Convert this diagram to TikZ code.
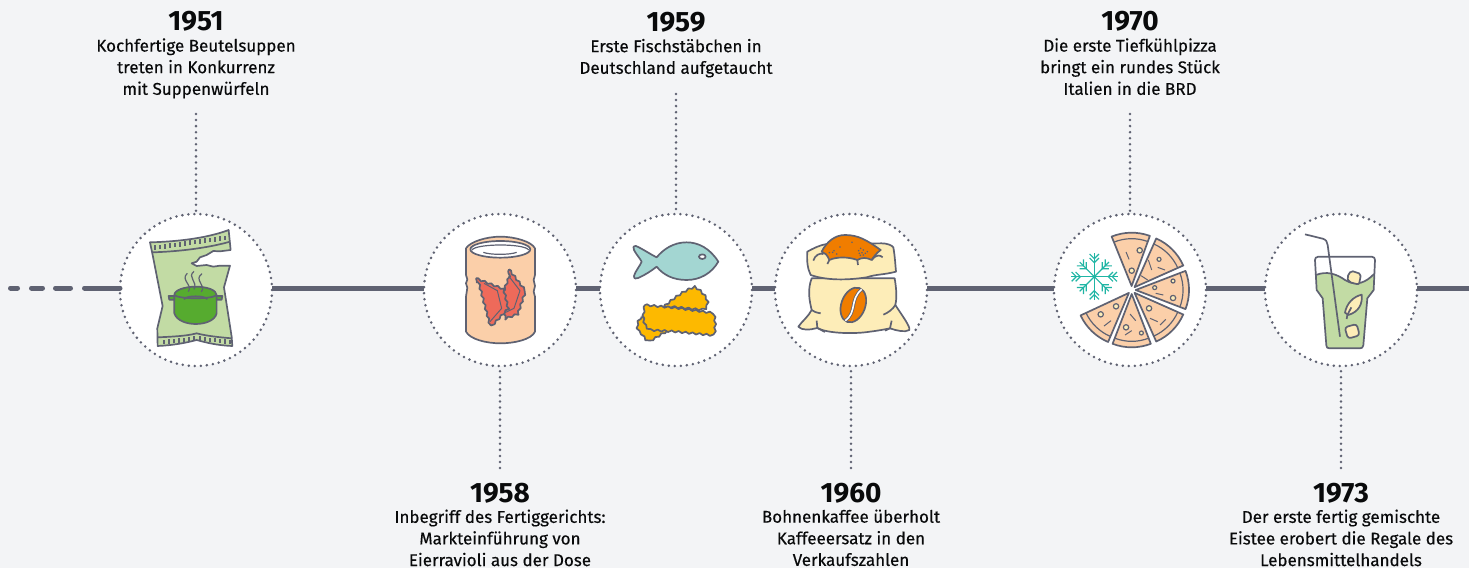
\documentclass[tikz,border=0pt]{standalone}
\usepackage{fontspec}
\setmainfont{Fira Sans}
\newfontfamily\txtfont{Fira Sans}[RawFeature={embolden=0.35}]
\usetikzlibrary{positioning,calc,decorations.pathmorphing}
\definecolor{bgcol}{HTML}{F3F4F6}
\definecolor{inkcol}{HTML}{5F6272}
\definecolor{bagcol}{HTML}{C2DBA4}
\definecolor{potcol}{HTML}{56AB2F}
\definecolor{peachcol}{HTML}{FBCFA9}
\definecolor{redcol}{HTML}{EE6A5A}
\definecolor{fishcol}{HTML}{A3D6D2}
\definecolor{stickcol}{HTML}{FDB900}
\definecolor{sackcol}{HTML}{FDEDB8}
\definecolor{beancol}{HTML}{F07D00}
\definecolor{snowcol}{HTML}{1FB5A4}
\tikzstyle{circbox}=[circle, draw=inkcol, fill=white, line width=2.8pt, line cap=round,
                    dash pattern=on 0pt off 6.05pt, minimum size=152pt, inner sep=0pt, outer sep=0pt]
\tikzstyle{yearbox}=[font=\fontsize{28}{28}\selectfont\bfseries, text=black!90!inkcol, inner sep=0pt,
                    text height=19pt, text depth=0pt]
\tikzstyle{txtbox}=[font=\txtfont\fontsize{17}{21.6}\selectfont, text=black!90!inkcol, inner sep=0pt, align=center,
                    text depth=4pt]
\tikzstyle{tline}=[-, inkcol, line width=5pt]
\tikzstyle{dline}=[-, inkcol, line width=2.8pt, line cap=round, dash pattern=on 0pt off 6.05pt]
\tikzstyle{icon}=[draw=inkcol, line width=1.7pt, line join=round]
\tikzstyle{thinicon}=[draw=inkcol, line width=1.2pt, line join=round]
\tikzstyle{wavy}=[decorate, decoration={snake, amplitude=0.9pt, segment length=7pt}]
\begin{document}
\begin{tikzpicture}[x=1pt, y=-1pt, node distance=0pt]

\path[use as bounding box, fill=bgcol] (0,0) rectangle (1469,568);

\node (C1951) [circbox] at (196,290) {};
\node (C1958) [circbox, right=152pt of C1951] {};
\node (C1959) [circbox, right=24pt of C1958] {};
\node (C1960) [circbox, right=23pt of C1959] {};
\node (C1970) [circbox, right=127pt of C1960] {};
\node (C1973) [circbox, right=59pt of C1970] {};

\coordinate (LEND) at (10.5,288);
\coordinate (REND) at (1469,288);
 \draw[tline, line cap=round, dash pattern=on 7pt off 14pt on 11pt off 13pt on 15pt off 14pt on 60pt]
   (LEND) -- ([yshift=2pt]C1951.west);
 \draw[tline] ([yshift=2pt]C1951.east) -- ([yshift=2pt]C1958.west);
 \draw[tline] ([yshift=2pt]C1958.east) -- ([yshift=2pt]C1959.west);
 \draw[tline] ([yshift=2pt]C1959.east) -- ([yshift=2pt]C1960.west);
 \draw[tline] ([yshift=2pt]C1960.east) -- ([yshift=2pt]C1970.west);
 \draw[tline] ([yshift=2pt]C1970.east) -- ([yshift=2pt]C1973.west);
 \draw[tline] ([yshift=2pt]C1973.east) -- (REND);

\node (T1951) [txtbox, above=115pt of C1951] {Kochfertige Beutelsuppen\\treten in Konkurrenz\\mit Suppenwürfeln};
\node (Y1951) [yearbox, above=7pt of T1951] {1951};
 \draw[dline, shorten <=15pt] (T1951.south) -- (C1951.north);
\node (T1959) [txtbox, above=136pt of C1959] {Erste Fischstäbchen in\\Deutschland aufgetaucht};
\node (Y1959) [yearbox, above=7pt of T1959] {1959};
 \draw[dline, shorten <=16pt] (T1959.south) -- (C1959.north);
\node (T1970) [txtbox, above=115pt of C1970] {Die erste Tiefkühlpizza\\bringt ein rundes Stück\\Italien in die BRD};
\node (Y1970) [yearbox, above=7pt of T1970] {1970};
 \draw[dline, shorten <=15pt] (T1970.south) -- (C1970.north);
\node (Y1958) [yearbox, below=117pt of C1958] {1958};
\node (T1958) [txtbox, below=7pt of Y1958] {Inbegriff des Fertiggerichts:\\Markteinführung von\\Eierravioli aus der Dose};
 \draw[dline, shorten <=15pt] (Y1958.north) -- (C1958.south);
\node (Y1960) [yearbox, below=117pt of C1960] {1960};
\node (T1960) [txtbox, below=7pt of Y1960] {Bohnenkaffee überholt\\Kaffeeersatz in den\\Verkaufszahlen};
 \draw[dline, shorten <=15pt] (Y1960.north) -- (C1960.south);
\node (Y1973) [yearbox, below=117pt of C1973] {1973};
\node (T1973) [txtbox, below=7pt of Y1973] {Der erste fertig gemischte\\Eistee erobert die Regale des\\Lebensmittelhandels};
 \draw[dline, shorten <=15pt] (Y1973.north) -- (C1973.south);

% soup bag
\begin{scope}[shift={(0,200)}, x=0.3333pt, y=-0.3333pt]
\path[icon, fill=bagcol] (450,127) .. controls (530,125) and (620,115) .. (686,90) -- (692,150)
  -- (660,154) -- (640,153) -- (620,165) -- (600,172) -- (590,185) -- (575,190) -- (590,198) -- (620,195)
  -- (640,200) -- (660,197) -- (690,197) -- (672,262) -- (695,410) -- (697,438)
  .. controls (650,436) and (620,428) .. (590,420) .. controls (560,428) and (520,436) .. (473,438)
  -- (472,385) -- (488,318) -- (458,165) -- cycle;
\draw[icon] (456,157) .. controls (530,155) and (620,145) .. (690,125);
\draw[icon] (473,412) .. controls (520,410) and (560,408) .. (590,400) .. controls (620,408) and (660,412) .. (695,415);
\foreach \x in {465,480,...,675}
  \draw[thinicon] (\x,{150-(\x-465)*0.14}) -- ++(0,-14);
\foreach \x in {492,507,...,582}
  \draw[thinicon] (\x,{433-(\x-492)*0.12}) -- ++(0,-13);
\foreach \x in {600,615,...,690}
  \draw[thinicon] (\x,{422+(\x-600)*0.12}) -- ++(0,-13);
\path[icon, fill=potcol] (523,285) -- (523,340) .. controls (530,362) and (560,372) .. (587,372)
  .. controls (615,372) and (645,362) .. (650,340) -- (650,285) .. controls (650,270) and (620,260) .. (587,260)
  .. controls (555,260) and (523,270) .. cycle;
\path[icon, fill=potcol] (506,288) -- (523,288) -- (523,299) -- (508,299) -- cycle;
\path[icon, fill=potcol] (650,288) -- (667,288) -- (665,299) -- (650,299) -- cycle;
\draw[icon] (523,285) .. controls (535,298) and (640,298) .. (650,285);
\draw[icon] (552,298) .. controls (556,286) and (618,286) .. (622,298);
\draw[thinicon] (565,275) .. controls (580,255) and (540,240) .. (562,220);
\draw[thinicon] (582,268) .. controls (595,245) and (560,232) .. (582,214);
\draw[thinicon] (604,276) .. controls (620,255) and (580,240) .. (606,221);
\end{scope}

% tin of ravioli
\begin{scope}[shift={(410,200)}, x=0.3333pt, y=-0.3333pt]
\path[icon, fill=peachcol] (168,145) -- (168,225) -- (172,238) -- (168,250) -- (172,263) -- (168,290) -- (168,395)
  .. controls (180,418) and (230,430) .. (271,430) .. controls (315,430) and (365,418) .. (375,395)
  -- (375,290) -- (371,275) -- (375,258) -- (371,240) -- (375,225) -- (375,145)
  .. controls (365,125) and (315,110) .. (271,110) .. controls (230,110) and (180,125) .. cycle;
\path[icon, fill=white] (271,148) ellipse [x radius=90, y radius=25];
\draw[thinicon] (186,150) .. controls (198,130) and (345,130) .. (356,150);
\draw[thinicon] (220,157) .. controls (240,165) and (300,165) .. (320,157);
\path[icon, fill=redcol, wavy] (297,208) -- (345,270) -- (322,338) -- (284,352) -- (262,300) -- cycle;
\draw[thinicon, line width=1pt] (296,228) -- (330,272) -- (312,325) -- (285,338);
\path[icon, fill=redcol, wavy] (198,235) -- (275,265) -- (290,330) -- (238,385) -- cycle;
\draw[thinicon, line width=1pt] (222,250) -- (262,272) -- (275,325) -- (240,365);
\end{scope}

% fish and fish sticks
\begin{scope}[shift={(410,200)}, x=0.3333pt, y=-0.3333pt]
\path[icon, fill=fishcol] (925,185) .. controls (900,145) and (865,127) .. (830,127)
  .. controls (790,127) and (760,148) .. (740,172) .. controls (720,162) and (695,145) .. (678,138)
  .. controls (668,137) and (670,145) .. (672,150) .. controls (680,165) and (690,175) .. (695,185)
  .. controls (690,198) and (675,215) .. (672,228) .. controls (672,237) and (678,237) .. (685,234)
  .. controls (705,225) and (725,212) .. (740,200) .. controls (760,225) and (790,240) .. (830,240)
  .. controls (870,240) and (905,220) .. cycle;
\path[icon, fill=white] (877,170) ellipse [x radius=10, y radius=7];
\path[icon, fill=stickcol, wavy] (762,320) .. controls (790,295) and (830,268) .. (855,263) .. controls (875,275) and (892,295) .. (892,312)
  .. controls (890,330) and (880,332) .. (860,330) -- cycle;
\path[icon, fill=stickcol, wavy] (695,350) .. controls (682,365) and (682,385) .. (695,395) .. controls (705,410) and (712,420) .. (722,420)
  .. controls (740,410) and (755,400) .. (770,392) -- cycle;
\path[icon, fill=stickcol, wavy] (705,315) -- (800,324) -- (900,338) .. controls (906,360) and (906,385) .. (902,408)
  -- (790,397) -- (712,392) .. controls (692,380) and (690,340) .. cycle;
\end{scope}

% coffee sack
\begin{scope}[shift={(770,200)}, x=0.3333pt, y=-0.3333pt]
\path[icon, fill=sackcol] (125,235) .. controls (112,270) and (118,300) .. (125,330) .. controls (115,350) and (95,365) .. (85,380)
  .. controls (95,392) and (120,390) .. (142,384) .. controls (170,400) and (250,403) .. (300,395)
  .. controls (325,392) and (345,388) .. (360,385) .. controls (380,392) and (405,398) .. (418,390)
  .. controls (422,380) and (395,345) .. (376,315) .. controls (382,290) and (378,260) .. (374,235) -- cycle;
\path[icon, fill=sackcol] (112,155) .. controls (130,145) and (150,135) .. (170,132) -- (335,130)
  .. controls (350,130) and (365,135) .. (370,142) .. controls (375,170) and (376,195) .. (378,215)
  .. controls (340,225) and (320,222) .. (290,232) .. controls (250,238) and (180,245) .. (122,225)
  .. controls (112,205) and (110,180) .. cycle;
\path[icon, fill=beancol] (155,155) .. controls (170,125) and (195,105) .. (225,105) .. controls (265,105) and (290,120) .. (332,150)
  .. controls (320,158) and (310,172) .. (305,180) .. controls (290,172) and (275,172) .. (262,180)
  .. controls (235,170) and (200,170) .. (178,180) .. controls (172,165) and (165,158) .. cycle;
\draw[icon] (130,182) .. controls (135,165) and (150,158) .. (160,162);
\draw[icon] (172,192) -- (178,180);
\draw[icon] (262,180) -- (264,195);
\draw[icon] (305,180) .. controls (320,162) and (330,165) .. (338,172);
\draw[icon] (152,340) .. controls (140,338) and (130,335) .. (125,330);
\draw[icon] (340,344) .. controls (355,338) and (368,328) .. (376,315);
\draw[icon] (140,362) -- (142,384) -- (165,396);
\draw[icon] (365,362) -- (360,385) -- (345,392);
\path[icon, fill=beancol, rotate around={-20:(250,315)}] (250,315) ellipse [x radius=36, y radius=54];
\draw[inkcol, line width=3.2pt] (226,362) .. controls (262,335) and (238,300) .. (275,268);
\draw[white, line width=1.6pt] (226,362) .. controls (262,335) and (238,300) .. (275,268);
\foreach \x/\y in {178/158,188/157,200/162,210/141,192/152,246/127,266/152,272/145,280/150,268/160,276/158,286/160,292/155,280/165,271/166}
  \fill[inkcol] (\x,\y) circle (0.9pt);
\end{scope}

% pizza and snowflake
\begin{scope}[shift={(1131.7,290)}, x=0.3333pt, y=0.3333pt]
\foreach \a in {91,45,0,-45,-90,-134} {
  \path[icon, fill=peachcol] (\a:12) -- ($(\a:12)+(\a-21:160)$) arc (\a-21:\a+21:160) -- cycle;
  \draw[thinicon] ($(\a:12)+(\a-21:142)$) arc (\a-21:\a+21:142);
}
\tikzset{topping/.style={thinicon, fill=sackcol}, crumb/.style={thinicon, line width=1pt}}
\path[topping] (24,119) circle (8); \path[topping] (0,58) circle (8);
\path[topping] (82,92) circle (6); \path[topping] (124,27) circle (6);
\path[topping] (69,7) circle (6); \path[topping] (124,-24) circle (8);
\path[topping] (52,-55) circle (8); \path[topping] (29,-129) circle (6);
\path[topping] (-17,-112) circle (8); \path[topping] (-47,-49) circle (8);
\path[topping] (-93,-73) circle (8);
\draw[crumb] (-17,114) -- (-8,92);
\draw[crumb] (50,90) -- (60,60);
\draw[crumb] (28,43) -- (48,30);
\draw[crumb] (78,68) -- (100,60);
\draw[crumb] (72,-10) -- (95,-15);
\draw[crumb] (55,-85) -- (78,-95);
\draw[crumb] (85,-105) -- (102,-88);
\draw[crumb] (-5,-72) -- (12,-92);
\draw[crumb] (-20,-135) -- (0,-122);
\draw[crumb] (-83,-108) -- (-62,-92);
\end{scope}
\begin{scope}[shift={(1094.3,276.7)}, x=0.3333pt, y=0.3333pt]
\foreach \a/\r in {0/70,45/62,90/70,135/62,180/70,225/62,270/70,315/62} {
  \begin{scope}[rotate=\a]
  \draw[snowcol, line width=1.2pt] (0,0) -- (\r,0);
  \draw[snowcol, line width=1.2pt] (\r-2,-14) -- (\r-16,0) -- (\r-2,14);
  \draw[snowcol, line width=1.2pt] (\r-14,-14) -- (\r-28,0) -- (\r-14,14);
  \end{scope}
}
\fill[snowcol] (0,0) circle (1.8pt);
\end{scope}

% iced tea
\begin{scope}[shift={(1250,200)}, x=0.3333pt, y=-0.3333pt]
\path[fill=bagcol] (198,225) .. controls (230,212) and (260,222) .. (285,240) .. controls (320,262) and (350,245) .. (372,222)
  -- (371,270) -- (352,295) -- (340,436) .. controls (339,443) and (335,445) .. (330,445) -- (238,445)
  .. controls (232,445) and (229,442) .. (229,436) -- (218,295) -- (200,270) -- cycle;
\draw[icon] (198,225) .. controls (230,212) and (260,222) .. (285,240) .. controls (320,262) and (350,245) .. (372,222);
\path[icon, fill=sackcol, rounded corners=2pt] (303,212) -- (333,222) -- (327,254) -- (297,246) -- (291,232) -- cycle;
\draw[icon] (205,170) -- (365,170) .. controls (372,170) and (375,175) .. (375,180) -- (371,270) -- (352,295) -- (340,436)
  .. controls (339,443) and (335,445) .. (330,445) -- (238,445) .. controls (232,445) and (229,442) .. (229,436)
  -- (218,295) -- (200,270) -- (195,180) .. controls (195,175) and (198,170) .. cycle;
\draw[icon] (165,103) -- (218,116) .. controls (228,119) and (232,125) .. (233,135) -- (270,410);
\path[icon, fill=sackcol] (285,338) .. controls (290,310) and (310,290) .. (335,284) .. controls (338,310) and (328,335) .. (295,345) -- cycle;
\draw[icon] (290,357) -- (292,345) -- (304,322);
\path[icon, fill=sackcol, rounded corners=3pt] (284,382) -- (320,372) -- (329,406) -- (294,416) -- cycle;
\end{scope}

\end{tikzpicture}
\end{document}
